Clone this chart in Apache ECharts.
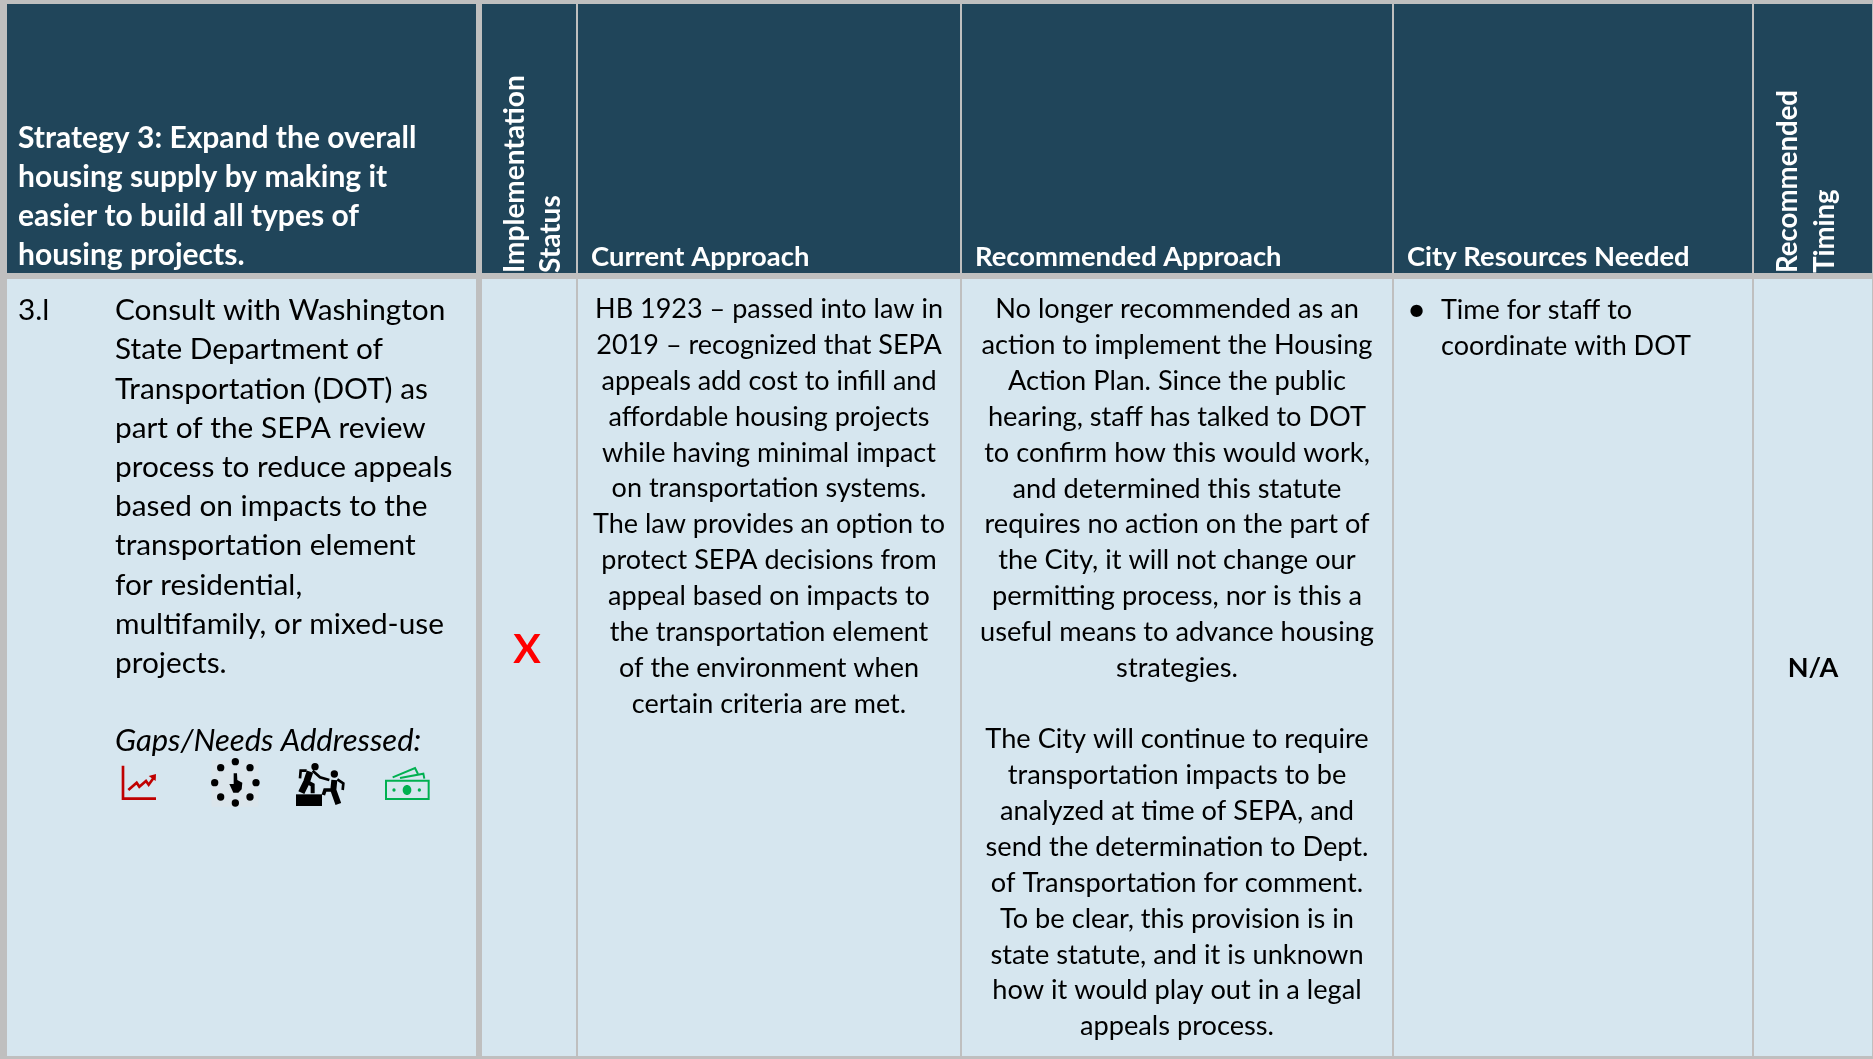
<!DOCTYPE html>
<html>
<head>
<meta charset="utf-8">
<title>Strategy 3</title>
<style>
  html, body { margin: 0; padding: 0; background: #fff; }
  #main { width: 1873px; height: 1059px; }
</style>
<script src="https://cdn.jsdelivr.net/npm/echarts@6/dist/echarts.min.js"></script>
</head>
<body>
<div id="main"></div>
<script>
// table content
const strategyTitle = ['Strategy 3: Expand the overall', 'housing supply by making it', 'easier to build all types of', 'housing projects.'];
const statusHeader = ['Implementation', 'Status'];
const timingHeader = ['Recommended', 'Timing'];
const currentHeader = 'Current Approach';
const recommendedHeader = 'Recommended Approach';
const resourcesHeader = 'City Resources Needed';
const actionId = '3.l';
const actionText = ['Consult with Washington', 'State Department of', 'Transportation (DOT) as', 'part of the SEPA review', 'process to reduce appeals', 'based on impacts to the', 'transportation element', 'for residential,', 'multifamily, or mixed-use', 'projects.'];
const gapsLabel = 'Gaps/Needs Addressed:';
const statusMark = 'X';
const currentText = ['HB 1923 – passed into law in', '2019 – recognized that SEPA', 'appeals add cost to infill and', 'affordable housing projects', 'while having minimal impact', 'on transportation systems.', 'The law provides an option to', 'protect SEPA decisions from', 'appeal based on impacts to', 'the transportation element', 'of the environment when', 'certain criteria are met.'];
const recommendedText = ['No longer recommended as an', 'action to implement the Housing', 'Action Plan. Since the public', 'hearing, staff has talked to DOT', 'to confirm how this would work,', 'and determined this statute', 'requires no action on the part of', 'the City, it will not change our', 'permitting process, nor is this a', 'useful means to advance housing', 'strategies.', '', 'The City will continue to require', 'transportation impacts to be', 'analyzed at time of SEPA, and', 'send the determination to Dept.', 'of Transportation for comment.', 'To be clear, this provision is in', 'state statute, and it is unknown', 'how it would play out in a legal', 'appeals process.'];
const resourcesText = ['Time for staff to', 'coordinate with DOT'];
const timingValue = 'N/A';

const NAVY = '#20455A';
const PALE = '#D6E6EF';
const GREY = '#BFBFBF';
const FONT = 'Lato';

// column and row edges of the table, in page pixels
const colLeft = [7, 482, 578, 962, 1394, 1754];
const colRight = [476, 576, 960, 1392, 1752, 1872];
const headTop = 4, headBottom = 273, bodyTop = 279, bodyBottom = 1056;

const cells = [];
colLeft.forEach(function (l, i) {
  cells.push([l, colRight[i], headTop, headBottom, NAVY]);
  cells.push([l, colRight[i], bodyTop, bodyBottom, PALE]);
});

// one row per text line: x, y, text, size, weight, colour, align, rotated, style
const labels = [];
function add(x, y, text, size, weight, color, align, rotated, style) {
  labels.push([x, y, text, size, weight, color, align, rotated ? 1 : 0, style || 'normal']);
}
strategyTitle.forEach(function (t, i) { add(18, 138 + i * 39, t, 30, 'bold', '#fff', 'left'); });
add(591, 257, currentHeader, 27.4, 'bold', '#fff', 'left');
add(975, 257, recommendedHeader, 27.4, 'bold', '#fff', 'left');
add(1407, 257, resourcesHeader, 27.4, 'bold', '#fff', 'left');
statusHeader.forEach(function (t, i) { add(515 + i * 35.5, 273, t, 28, 'bold', '#fff', 'left', true); });
timingHeader.forEach(function (t, i) { add(1788 + i * 37, 273, t, 27.6, 'bold', '#fff', 'left', true); });
add(18, 310.5, actionId, 29.8, 'normal', '#000', 'left');
actionText.forEach(function (t, i) { add(115, 310.5 + i * 39.2, t, 29.8, 'normal', '#000', 'left'); });
add(115, 741, gapsLabel, 31, 'normal', '#000', 'left', false, 'italic');
add(527, 650, statusMark, 41, 'bold', '#FF0000', 'center');
currentText.forEach(function (t, i) { add(769, 309.5 + i * 35.85, t, 27, 'normal', '#000', 'center'); });
recommendedText.forEach(function (t, i) { add(1177, 309.5 + i * 35.85, t, 27.2, 'normal', '#000', 'center'); });
add(1407, 310, '•', 33, 'normal', '#000', 'left');
resourcesText.forEach(function (t, i) { add(1441, 310.5 + i * 36, t, 27, 'normal', '#000', 'left'); });
add(1813, 668, timingValue, 27, 'bold', '#000', 'center');

const chart = echarts.init(document.getElementById('main'));

// icons, drawn in a 3x local space
function line(points, color, width) {
  return { type: 'polyline', z: 10, shape: { points: points }, style: { stroke: color, lineWidth: width, fill: null } };
}
function dot(cx, cy, r, color) {
  return { type: 'circle', z: 10, shape: { cx: cx, cy: cy, r: r }, style: { fill: color } };
}
const RED = '#C00000', GREEN = '#00B050', BLACK = '#000';
const icons = [
  line([[99, 167], [99, 266], [198, 266]], RED, 8),
  line([[115, 240], [140, 218], [148, 230], [168, 213], [176, 224], [190, 205]], RED, 8),
  { type: 'polygon', z: 10, shape: { points: [[176, 198], [198, 192], [197, 213]] }, style: { fill: RED } },
  { type: 'rect', z: 9, shape: { x: 365, y: 150, width: 140, height: 140 }, style: { fill: '#DBE5EB' } },
  dot(436, 155, 11, BLACK), dot(480, 173, 11, BLACK), dot(498, 218, 11, BLACK), dot(480, 261, 11, BLACK),
  dot(436, 279, 11, BLACK), dot(392, 261, 11, BLACK), dot(374, 218, 11, BLACK), dot(392, 173, 11, BLACK),
  { type: 'polygon', z: 10, shape: { points: [[431, 190], [441, 190], [442, 210], [457, 218], [455, 238], [445, 248], [430, 248], [418, 222], [431, 222]] }, style: { fill: BLACK } },
  { type: 'rect', z: 10, shape: { x: 618, y: 253, width: 78, height: 35 }, style: { fill: BLACK } },
  dot(675, 170, 11, BLACK),
  line([[660, 185], [650, 215], [634, 248]], BLACK, 20),
  line([[650, 215], [668, 225], [668, 250]], BLACK, 12),
  line([[650, 182], [632, 182], [630, 205]], BLACK, 8),
  line([[668, 182], [690, 202], [718, 210]], BLACK, 8),
  dot(733, 192, 11, BLACK),
  line([[733, 210], [730, 240], [745, 282]], BLACK, 18),
  line([[725, 240], [705, 240], [700, 255]], BLACK, 11),
  line([[742, 208], [760, 220], [758, 240]], BLACK, 8),
  { type: 'rect', z: 10, shape: { x: 888, y: 212, width: 128, height: 55 }, style: { stroke: GREEN, lineWidth: 6, fill: null } },
  { type: 'ellipse', z: 10, shape: { cx: 951, cy: 240, rx: 13, ry: 15 }, style: { fill: GREEN } },
  dot(912, 240, 5, GREEN), dot(988, 240, 5, GREEN),
  line([[908, 202], [975, 174], [984, 192]], GREEN, 6),
  line([[930, 204], [1000, 191], [1003, 206]], GREEN, 6)
];

chart.setOption({
  animation: false,
  backgroundColor: GREY,
  grid: { left: 0, right: 0, top: 0, bottom: 0 },
  xAxis: { type: 'value', min: 0, max: 1873, show: false },
  yAxis: { type: 'value', min: 0, max: 1059, inverse: true, show: false },
  graphic: [{ type: 'group', x: 90, y: 710, scaleX: 1 / 3, scaleY: 1 / 3, children: icons }],
  series: [
    {
      type: 'custom',
      name: 'cells',
      silent: true,
      data: cells,
      encode: { x: [0, 1], y: [2, 3] },
      renderItem: function (params, api) {
        const a = api.coord([api.value(0), api.value(2)]);
        const b = api.coord([api.value(1), api.value(3)]);
        return {
          type: 'rect',
          shape: { x: a[0], y: a[1], width: b[0] - a[0], height: b[1] - a[1] },
          style: { fill: cells[params.dataIndex][4] }
        };
      }
    },
    {
      type: 'custom',
      name: 'labels',
      silent: true,
      z: 5,
      data: labels.map(function (r, i) { return [r[0], r[1], i]; }),
      encode: { x: 0, y: 1 },
      renderItem: function (params, api) {
        const r = labels[params.dataIndex];
        const p = api.coord([r[0], r[1]]);
        return {
          type: 'text',
          x: p[0],
          y: p[1],
          rotation: r[7] ? Math.PI / 2 : 0,
          style: {
            text: r[2],
            fill: r[5],
            font: r[8] + ' ' + r[4] + ' ' + r[3] + 'px ' + FONT,
            textAlign: r[6],
            textVerticalAlign: 'middle'
          }
        };
      }
    }
  ]
});
</script>
</body>
</html>
